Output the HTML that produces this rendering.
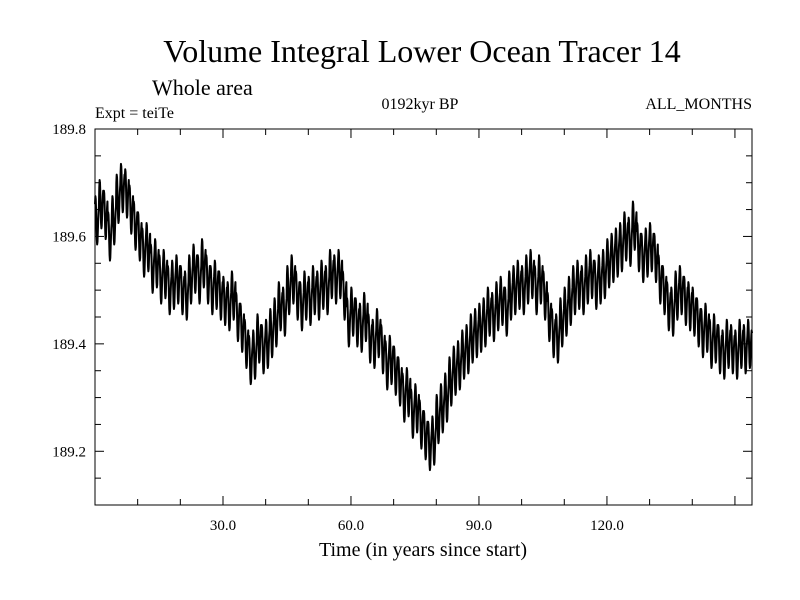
<!DOCTYPE html>
<html><head><meta charset="utf-8"><style>
html,body{margin:0;padding:0;background:#fff;}
svg{display:block;font-family:"Liberation Serif",serif;}
</style></head><body>
<svg id="chart" width="800" height="600">
<text x="422" y="62" font-size="32" text-anchor="middle">Volume Integral Lower Ocean Tracer 14</text>
<text x="152" y="95" font-size="22">Whole area</text>
<text x="95" y="118" font-size="16">Expt = teiTe</text>
<text x="420" y="109" font-size="16" text-anchor="middle">0192kyr BP</text>
<text x="752" y="109" font-size="16" text-anchor="end">ALL_MONTHS</text>
<text x="423" y="556" font-size="20" text-anchor="middle">Time (in years since start)</text>
<rect x="95" y="129" width="657" height="376" fill="none" stroke="#000" stroke-width="1"/>
<g id="ticks"></g>
<path id="series" fill="none" stroke="#000" stroke-width="2" stroke-linejoin="round"/>
</svg>
<script>
const annualMean = [189.63,189.66,189.64,189.60,189.63,189.67,189.69,189.68,189.65,189.62,
189.60,189.57,189.58,189.54,189.55,189.52,189.53,189.50,189.51,189.52,
189.50,189.49,189.52,189.54,189.52,189.55,189.52,189.50,189.51,189.49,
189.48,189.47,189.49,189.45,189.43,189.40,189.37,189.38,189.41,189.39,
189.40,189.42,189.44,189.47,189.46,189.50,189.52,189.49,189.47,189.49,
189.48,189.50,189.49,189.51,189.50,189.53,189.52,189.53,189.49,189.44,
189.46,189.44,189.43,189.45,189.41,189.40,189.42,189.39,189.36,189.37,
189.35,189.33,189.30,189.31,189.27,189.28,189.25,189.23,189.21,189.22,
189.26,189.28,189.30,189.33,189.35,189.36,189.38,189.39,189.41,189.42,
189.43,189.44,189.46,189.45,189.47,189.48,189.46,189.49,189.50,189.51,
189.50,189.52,189.53,189.50,189.52,189.49,189.45,189.42,189.41,189.44,
189.46,189.48,189.50,189.51,189.50,189.52,189.53,189.51,189.52,189.53,
189.55,189.56,189.57,189.58,189.60,189.59,189.62,189.58,189.56,189.57,
189.58,189.56,189.52,189.50,189.47,189.46,189.49,189.50,189.48,189.47,
189.46,189.44,189.42,189.43,189.40,189.41,189.39,189.38,189.40,189.39,
189.38,189.40,189.39,189.40,189.39];
const seasonalCycle = [0.03,0.045,0.04,0.02,-0.01,-0.035,-0.045,-0.04,-0.02,0.0,0.015,0.025];
const xTickValues = [30,60,90,120];
const xTickLabels = ["30.0","60.0","90.0","120.0"];
const yTickValues = [189.2,189.4,189.6,189.8];
const yTickLabels = ["189.2","189.4","189.6","189.8"];

const L=95,R=752,T=129,B=505, X0=0, X1=154, Y0=189.1, Y1=189.8;
const sx=v=>L+(v-X0)/(X1-X0)*(R-L);
const sy=v=>B-(v-Y0)/(Y1-Y0)*(B-T);
const NS="http://www.w3.org/2000/svg";
const g=document.getElementById('ticks');
function line(x1,y1,x2,y2,name){const l=document.createElementNS(NS,'line');
l.setAttribute('x1',x1);l.setAttribute('y1',y1);l.setAttribute('x2',x2);l.setAttribute('y2',y2);
l.setAttribute('stroke','#000');


g.appendChild(l);}
function text(x,y,s,anchor,name){const t=document.createElementNS(NS,'text');
t.setAttribute('x',x);t.setAttribute('y',y);t.setAttribute('font-size','15');t.setAttribute('text-anchor',anchor);t.textContent=s;


g.appendChild(t);}
for(let v=10;v<X1;v+=10){const x=sx(v);const major=v%30===0;const len=major?9:6;
line(x,B,x,B-len,'x-tick');line(x,T,x,T+len,'x-tick-top');}
for(let v=189.15;v<189.8;v+=0.05){const y=sy(v);const major=Math.abs(Math.round(v*10)/10-v)<0.001&&Math.round(v*10)%2===0;const len=major?9:6;
line(L,y,L+len,y,'y-tick');line(R,y,R-len,y,'y-tick-right');}
xTickValues.forEach((v,i)=>text(sx(v),530,xTickLabels[i],'middle','x-tick-label'));
yTickValues.forEach((v,i)=>text(86,sy(v)+5,yTickLabels[i],'end','y-tick-label'));
let d='';
annualMean.forEach((m,yr)=>{seasonalCycle.forEach((s,mo)=>{const t=yr+mo/12;if(t>X1)return;
d+=(d?'L':'M')+sx(t).toFixed(2)+','+sy(m+s).toFixed(2);});});
document.getElementById('series').setAttribute('d',d);
</script>
</body></html>
